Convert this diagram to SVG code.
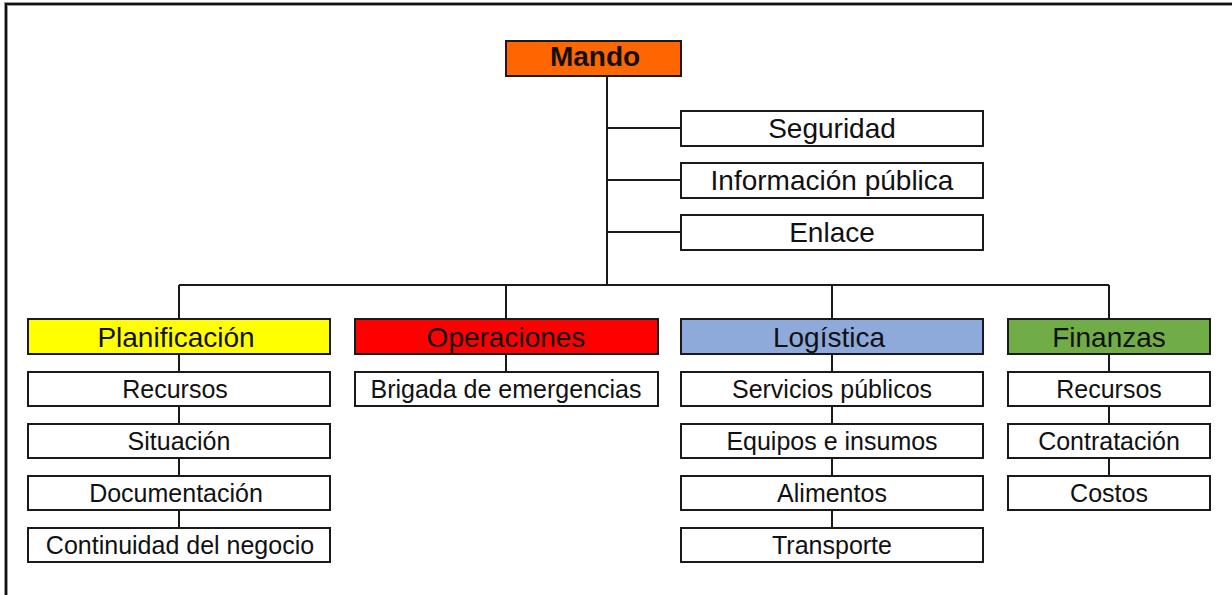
<svg xmlns="http://www.w3.org/2000/svg" width="1232" height="595" viewBox="0 0 1232 595">
<style>
.box{fill:#fff;stroke:#1a1a1a;stroke-width:2}
.t{font-family:"Liberation Sans",Arial,sans-serif;font-size:28px;fill:#111;text-anchor:middle}
.c{font-family:"Liberation Sans",Arial,sans-serif;font-size:25px;fill:#111;text-anchor:middle}
.b{font-weight:bold}
.ln{stroke:#1a1a1a;stroke-width:2;fill:none}
</style>
<rect width="1232" height="595" fill="#fff"/>
<g id="frame">
<path d="M6 595 V4 H1232" fill="none" stroke="#9a9a9a" stroke-width="4"/>
<path d="M6 595 V4 H1232" fill="none" stroke="#111" stroke-width="2"/>
</g>
<g id="connectors" class="ln">
<path d="M607 76 V285"/>
<path d="M607 128 H681 M607 180 H681 M607 232 H681"/>
<path d="M179 285 H1109"/>
<path d="M179 285 V319 M506 285 V319 M832 285 V319 M1109 285 V319"/>
<path d="M179 354 V528"/>
<path d="M506 354 V372"/>
<path d="M832 354 V528"/>
<path d="M1109 354 V476"/>
</g>
<g id="mando"><rect class="box" x="506" y="41" width="175" height="35" style="fill:#ff6600"/><text class="t b" x="595" y="66">Mando</text></g>
<g id="seguridad"><rect class="box" x="681" y="111" width="302" height="35"/><text class="t" x="832" y="138">Seguridad</text></g>
<g id="informacion"><rect class="box" x="681" y="163" width="302" height="35"/><text class="t" x="832" y="190">Información pública</text></g>
<g id="enlace"><rect class="box" x="681" y="215" width="302" height="35"/><text class="t" x="832" y="242">Enlace</text></g>

<g id="planificacion"><rect class="box" x="28" y="319" width="302" height="35" style="fill:#ffff00"/><text class="t" x="176" y="347">Planificación</text></g>
<g id="operaciones"><rect class="box" x="355" y="319" width="303" height="35" style="fill:#ff0000"/><text class="t" x="506" y="347">Operaciones</text></g>
<g id="logistica"><rect class="box" x="681" y="319" width="302" height="35" style="fill:#8eaadb"/><text class="t" x="829" y="347">Logística</text></g>
<g id="finanzas"><rect class="box" x="1008" y="319" width="202" height="35" style="fill:#70ad47"/><text class="t" x="1109" y="347">Finanzas</text></g>

<g id="p-recursos"><rect class="box" x="28" y="372" width="302" height="34"/><text class="c" x="175" y="398">Recursos</text></g>
<g id="p-situacion"><rect class="box" x="28" y="424" width="302" height="34"/><text class="c" x="179" y="450">Situación</text></g>
<g id="p-documentacion"><rect class="box" x="28" y="476" width="302" height="34"/><text class="c" x="176" y="502">Documentación</text></g>
<g id="p-continuidad"><rect class="box" x="28" y="528" width="302" height="34"/><text class="c" x="180" y="554">Continuidad del negocio</text></g>

<g id="o-brigada"><rect class="box" x="355" y="372" width="303" height="34"/><text class="c" x="506" y="398">Brigada de emergencias</text></g>

<g id="l-servicios"><rect class="box" x="681" y="372" width="302" height="34"/><text class="c" x="832" y="398">Servicios públicos</text></g>
<g id="l-equipos"><rect class="box" x="681" y="424" width="302" height="34"/><text class="c" x="832" y="450">Equipos e insumos</text></g>
<g id="l-alimentos"><rect class="box" x="681" y="476" width="302" height="34"/><text class="c" x="832" y="502">Alimentos</text></g>
<g id="l-transporte"><rect class="box" x="681" y="528" width="302" height="34"/><text class="c" x="832" y="554">Transporte</text></g>

<g id="f-recursos"><rect class="box" x="1008" y="372" width="202" height="34"/><text class="c" x="1109" y="398">Recursos</text></g>
<g id="f-contratacion"><rect class="box" x="1008" y="424" width="202" height="34"/><text class="c" x="1109" y="450">Contratación</text></g>
<g id="f-costos"><rect class="box" x="1008" y="476" width="202" height="34"/><text class="c" x="1109" y="502">Costos</text></g>
</svg>
